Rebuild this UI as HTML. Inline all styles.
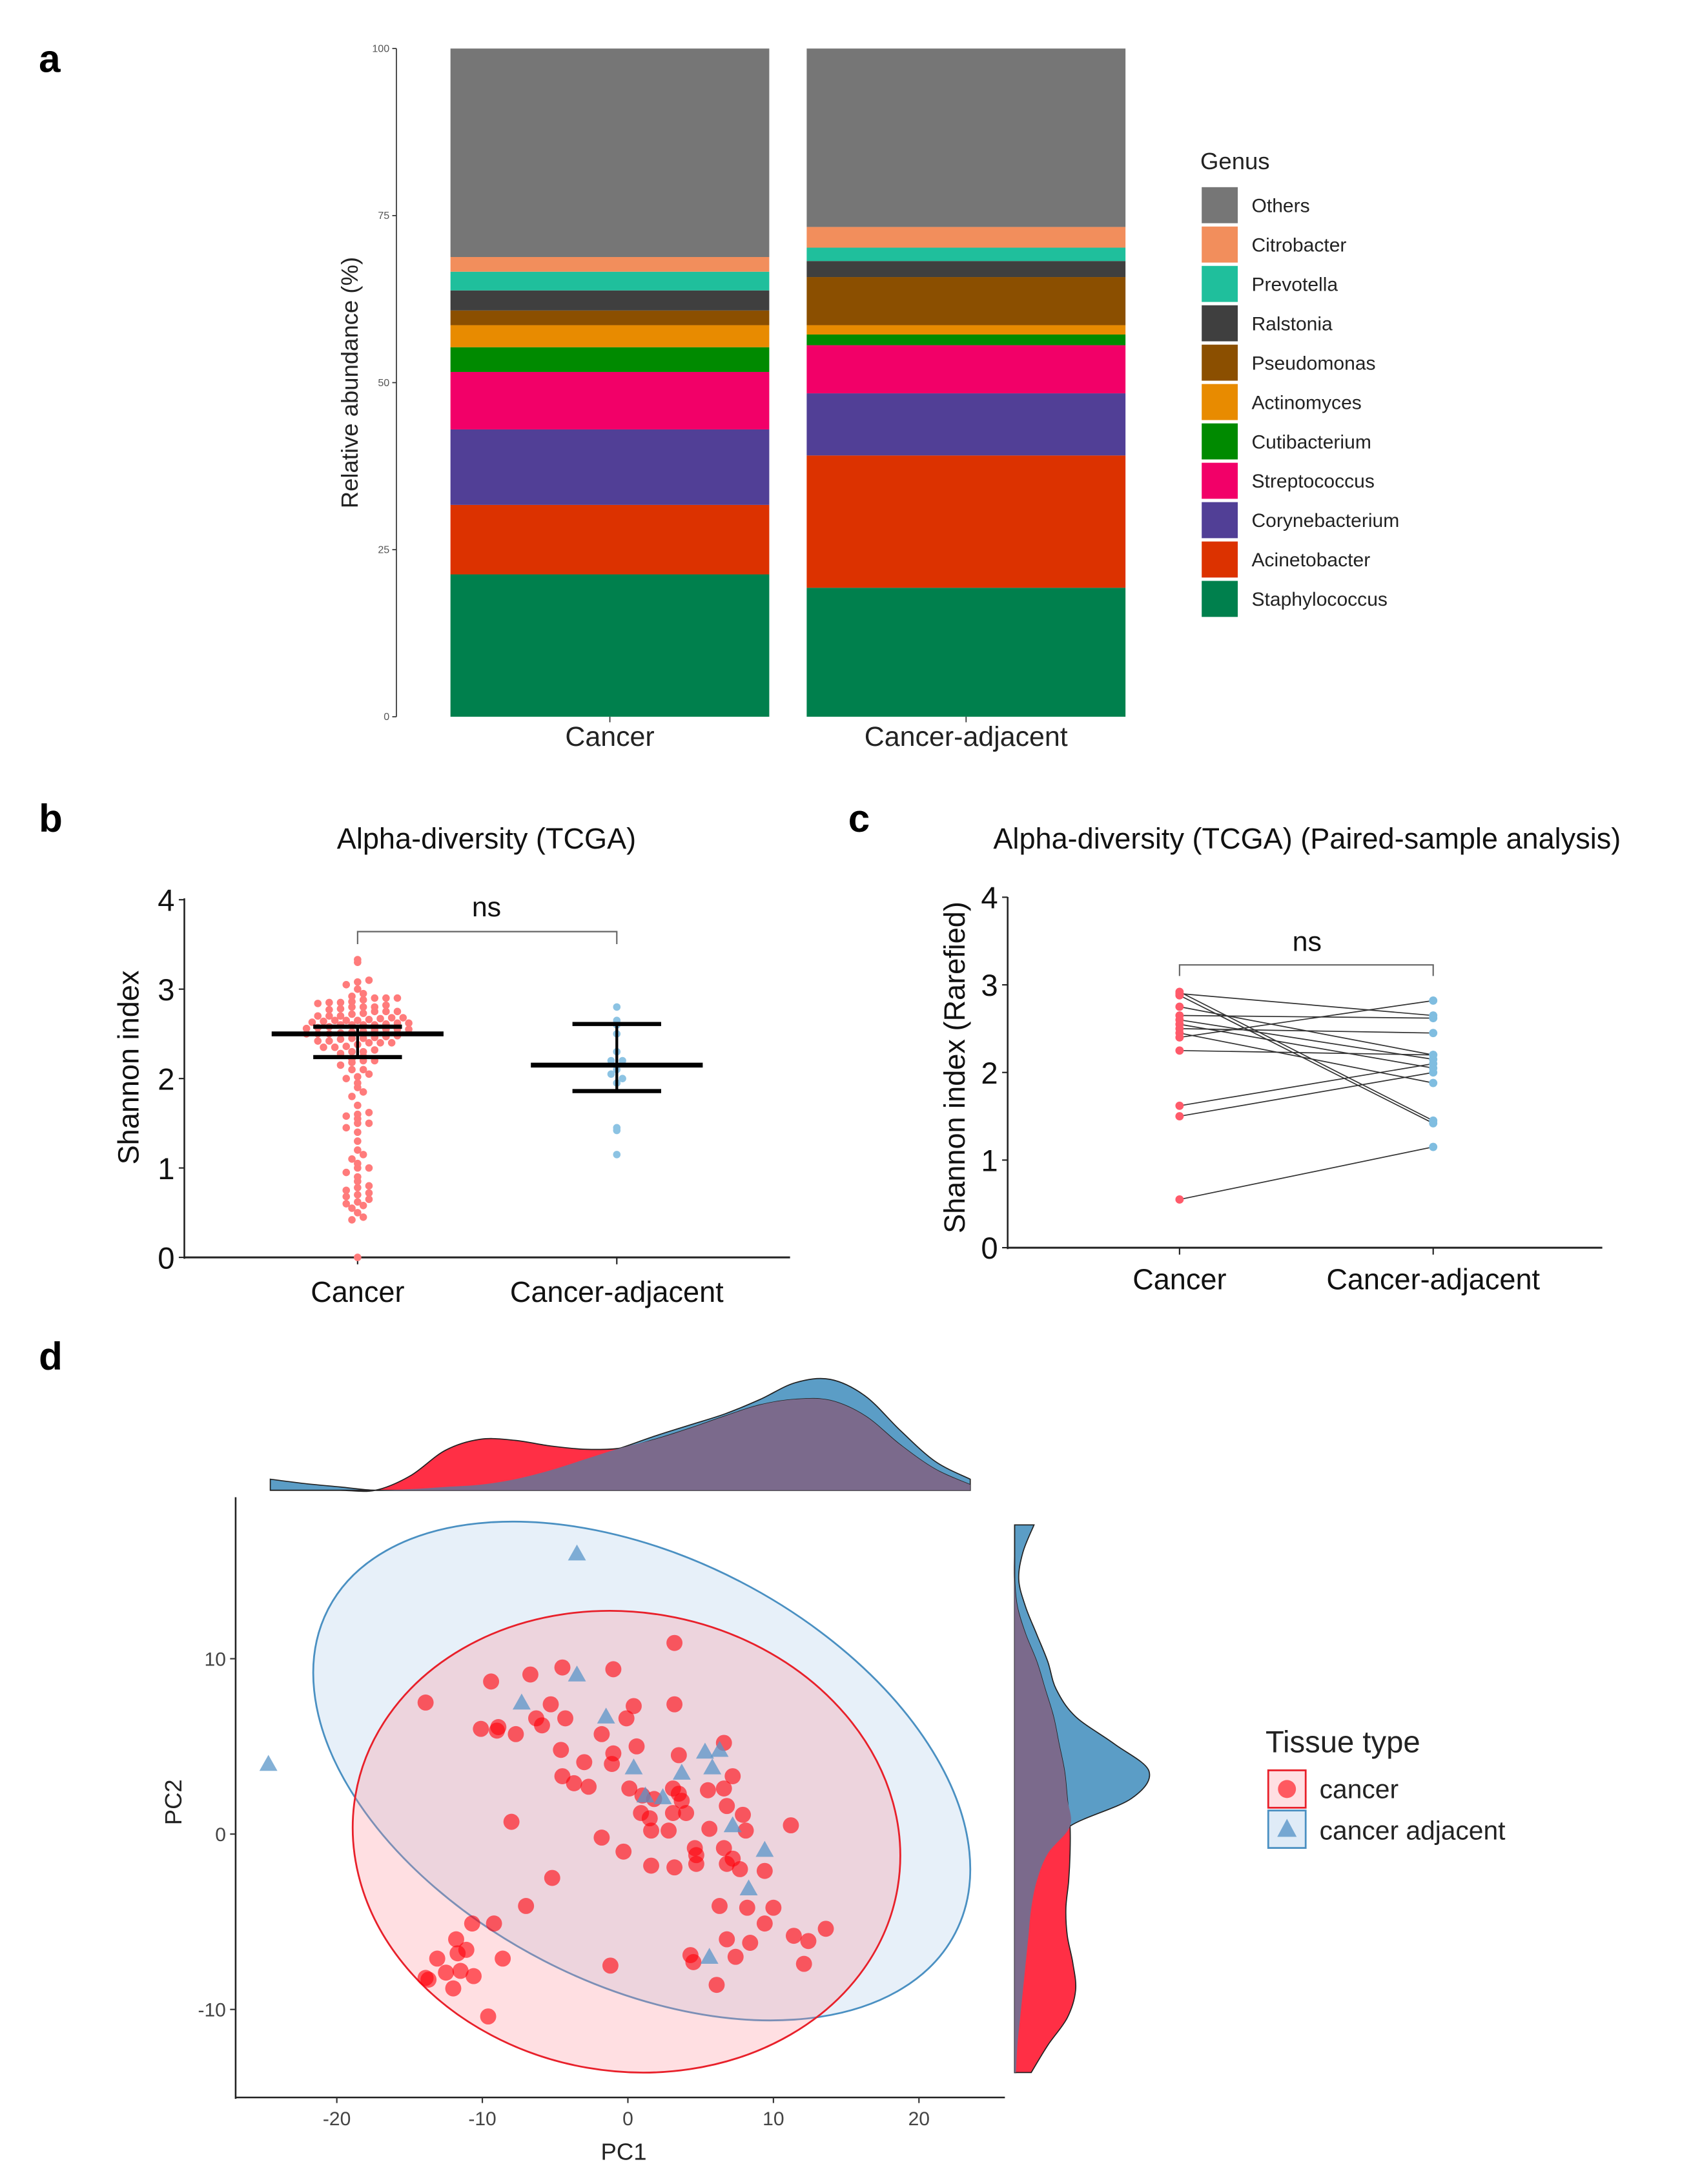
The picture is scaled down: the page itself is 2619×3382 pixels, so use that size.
<!DOCTYPE html>
<html><head><meta charset="utf-8">
<style>
html,body{margin:0;padding:0;background:#fff;}
svg{display:block;font-family:"Liberation Sans",Arial,sans-serif;}
</style></head>
<body>
<svg id="fig" width="2619" height="3382" viewBox="0 0 1220 1575.4" xmlns="http://www.w3.org/2000/svg">
<rect width="1220" height="1575.4" fill="#fff"/>
<text x="28" y="52" font-size="28" font-weight="bold">a</text>
<text x="28" y="600" font-size="28" font-weight="bold">b</text>
<text x="612" y="600" font-size="28" font-weight="bold">c</text>
<text x="28" y="988" font-size="28" font-weight="bold">d</text>
<g id="pa"></g>
<g id="pb"></g>
<g id="pc"></g>
<g id="pd"></g>
</svg>
<script>
// ---------- Panel a data ----------
const genera = ["Staphylococcus","Acinetobacter","Corynebacterium","Streptococcus","Cutibacterium","Actinomyces","Pseudomonas","Ralstonia","Prevotella","Citrobacter","Others"];
const genusColors = ["#00804d","#dc3200","#513f96","#f20068","#008a00","#e88b00","#8b4f00","#3f3f3f","#1fbf9c","#f28e5c","#767676"];
const barGroups = ["Cancer","Cancer-adjacent"];
const cancerAbund = [21.3,10.4,11.3,8.6,3.7,3.3,2.2,3.0,2.8,2.2,31.2];
const adjacentAbund = [19.3,19.8,9.3,7.2,1.6,1.4,7.2,2.4,2.0,3.1,26.7];
const abundTicks = [0,25,50,75,100];
// ---------- Panel b data ----------
const divGroups = ["Cancer","Cancer-adjacent"];
const cancerShannon = [0,0.42,0.45,0.5,0.55,0.58,0.6,0.62,0.65,0.68,0.7,0.72,0.75,0.78,0.8,0.85,0.9,0.95,1.0,1.0,1.05,1.1,1.15,1.2,1.3,1.4,1.45,1.5,1.5,1.55,1.58,1.6,1.62,1.7,1.8,1.85,1.9,1.95,2.0,2.02,2.05,2.1,2.1,2.15,2.18,2.2,2.2,2.22,2.25,2.28,2.3,2.3,2.32,2.35,2.35,2.36,2.38,2.4,2.4,2.4,2.42,2.42,2.44,2.45,2.45,2.46,2.47,2.48,2.5,2.5,2.5,2.51,2.52,2.53,2.54,2.55,2.55,2.55,2.56,2.57,2.58,2.6,2.6,2.6,2.6,2.61,2.62,2.62,2.63,2.64,2.65,2.65,2.65,2.66,2.67,2.68,2.68,2.7,2.7,2.7,2.72,2.73,2.75,2.75,2.75,2.77,2.78,2.8,2.8,2.8,2.82,2.84,2.85,2.85,2.86,2.88,2.9,2.9,2.9,2.92,2.95,3.0,3.05,3.08,3.1,3.3,3.33];
const adjacentShannon = [2.8,2.65,2.6,2.5,2.3,2.2,2.2,2.1,2.05,2.0,1.95,1.45,1.42,1.15];
const meanLine = [2.5,2.15];
const errLow = [2.24,1.86];
const errHigh = [2.58,2.61];
const shannonTicks = [0,1,2,3,4];
// ---------- Panel c data ----------
const pairCancer = [2.92,2.9,2.88,2.75,2.65,2.6,2.55,2.5,2.45,2.4,2.25,1.62,1.5,0.55];
const pairAdjacent = [1.45,2.65,1.42,2.2,2.62,2.15,2.05,2.45,1.88,2.82,2.2,2.1,2.0,1.15];
// ---------- Panel d data ----------
const cancerPC1 = [3.2,-4.5,-1.0,-6.7,-9.4,-13.9,-5.3,0.4,3.2,-6.3,-4.3,-0.1,-10.1,-8.9,-9.0,-7.7,-5.9,-1.8,0.6,6.6,-4.6,-1.0,3.5,-3.0,-1.1,7.2,-4.5,-3.7,-2.7,0.1,3.1,3.5,5.5,6.6,1.0,1.8,3.7,6.8,0.9,3.1,4.0,1.5,7.9,11.2,-8.0,5.6,1.6,2.8,8.1,-1.8,4.6,6.6,-0.3,4.7,7.2,1.6,3.2,4.7,6.8,7.7,9.4,-5.2,6.3,8.2,10.0,-7.0,9.4,-10.7,-9.2,11.4,13.6,12.4,6.8,8.4,-11.8,-11.1,-11.7,-13.1,-8.6,4.3,7.4,4.5,-12.5,-11.5,-10.6,-13.9,-13.7,12.1,-1.2,-12.0,6.1,-9.6];
const cancerPC2 = [10.9,9.5,9.4,9.1,8.7,7.5,7.4,7.3,7.4,6.6,6.6,6.6,6.0,6.1,5.9,5.7,6.2,5.7,5.0,5.2,4.8,4.6,4.5,4.1,4.0,3.3,3.3,2.9,2.7,2.6,2.6,2.3,2.5,2.6,2.2,2.0,1.9,1.6,1.2,1.2,1.2,0.9,1.1,0.5,0.7,0.3,0.2,0.2,0.2,-0.2,-0.8,-0.8,-1.0,-1.2,-1.4,-1.8,-1.9,-1.7,-1.7,-2.0,-2.1,-2.5,-4.1,-4.2,-4.2,-4.1,-5.1,-5.1,-5.1,-5.8,-5.4,-6.1,-6.0,-6.2,-6.0,-6.6,-6.8,-7.1,-7.1,-6.9,-7.0,-7.3,-7.9,-7.8,-8.1,-8.2,-8.3,-7.4,-7.5,-8.8,-8.6,-10.4];
const adjPC1 = [-3.5,-24.7,-3.5,-7.3,-1.5,0.4,3.7,5.8,5.3,6.3,1.2,2.4,7.2,9.4,8.3,5.6];
const adjPC2 = [16.0,4.0,9.1,7.5,6.7,3.8,3.5,3.8,4.7,4.8,2.2,2.1,0.5,-0.9,-3.1,-7.0];
const pc1Ticks = [-20,-10,0,10,20];
const pc2Ticks = [-10,0,10];
// marginal densities (relative heights)
const topDensCancer = [0,0,0,0,0.13,0.36,0.46,0.45,0.40,0.37,0.38,0.46,0.56,0.67,0.77,0.82,0.81,0.67,0.41,0.19,0.05];
const topDensAdjacent = [0.10,0.06,0.03,0,0.01,0.03,0.05,0.10,0.18,0.28,0.38,0.49,0.59,0.69,0.82,0.97,1.0,0.85,0.54,0.26,0.10];
const sideDensCancer = [0,0,0,0.02,0.08,0.16,0.22,0.28,0.32,0.36,0.38,0.40,0.40,0.39,0.37,0.38,0.42,0.44,0.38,0.24,0.12];
const sideDensAdjacent = [0.14,0.06,0.03,0.08,0.16,0.24,0.30,0.44,0.72,0.97,0.84,0.40,0.24,0.16,0.12,0.10,0.08,0.06,0.04,0.02,0.01];

const NS="http://www.w3.org/2000/svg";
function mk(parent,tag,attrs,txt){const e=document.createElementNS(NS,tag);for(const k in attrs)e.setAttribute(k,attrs[k]);if(txt!==undefined)e.textContent=txt;parent.appendChild(e);return e;}
function smooth(pts){let d="M"+pts[0][0]+","+pts[0][1];for(let i=0;i<pts.length-1;i++){const p0=pts[Math.max(0,i-1)],p1=pts[i],p2=pts[i+1],p3=pts[Math.min(pts.length-1,i+2)];const c1=[p1[0]+(p2[0]-p0[0])/6,p1[1]+(p2[1]-p0[1])/6],c2=[p2[0]-(p3[0]-p1[0])/6,p2[1]-(p3[1]-p1[1])/6];d+=" C"+c1+" "+c2+" "+p2;}return d;}

// ================= Panel a =================
(function(){
const g=document.getElementById('pa');
const y=v=>517-v*(482/100);
const barX=[325,582], barW=230;
const ax=mk(g,'line',{x1:286,y1:35,x2:286,y2:517,stroke:'#333','stroke-width':0.8});

abundTicks.forEach(t=>{const l=mk(g,'line',{x1:283,x2:286,y1:y(t),y2:y(t),stroke:'#333','stroke-width':0.8});

const tx=mk(g,'text',{x:281,y:y(t)+2.5,'font-size':7.5,fill:'#555','text-anchor':'end'},t);
});
const yt=mk(g,'text',{x:0,y:0,'font-size':17,fill:'#222','text-anchor':'middle',transform:'translate(258,276) rotate(-90)'},'Relative abundance (%)');

[cancerAbund,adjacentAbund].forEach((vals,bi)=>{let cum=0;vals.forEach((v,i)=>{const r=mk(g,'rect',{x:barX[bi],y:y(cum+v),width:barW,height:v*4.82,fill:genusColors[i]});
cum+=v;});
const tk=mk(g,'line',{x1:barX[bi]+barW/2,x2:barX[bi]+barW/2,y1:517,y2:521,stroke:'#333','stroke-width':0.8});

const lb=mk(g,'text',{x:barX[bi]+barW/2,y:538,'font-size':20,fill:'#222','text-anchor':'middle'},barGroups[bi]);
});
const lt=mk(g,'text',{x:866,y:122,'font-size':17,fill:'#222'},'Genus');

for(let k=0;k<genera.length;k++){const i=genera.length-1-k;const cy=148+k*28.4;
const s=mk(g,'rect',{x:867,y:cy-13,width:26,height:26,fill:genusColors[i]});

const t=mk(g,'text',{x:903,y:cy+5,'font-size':14,fill:'#222'},genera[i]);
}
})();

// ================= Panel b =================
(function(){
const g=document.getElementById('pb');
const y=v=>907-v*64.5; const xs=[258,445];
const tt=mk(g,'text',{x:351,y:612,'font-size':21,fill:'#111','text-anchor':'middle'},'Alpha-diversity (TCGA)');

const a1=mk(g,'line',{x1:133,y1:648,x2:133,y2:908,stroke:'#222','stroke-width':1.2});

const a2=mk(g,'line',{x1:133,y1:907,x2:570,y2:907,stroke:'#222','stroke-width':1.4});

shannonTicks.forEach(t=>{const l=mk(g,'line',{x1:129,x2:133,y1:y(t),y2:y(t),stroke:'#222'});

const tx=mk(g,'text',{x:126,y:y(t)+8,'font-size':22,fill:'#111','text-anchor':'end'},t);
});
const yt=mk(g,'text',{x:0,y:0,'font-size':21,fill:'#111','text-anchor':'middle',transform:'translate(100,770) rotate(-90)'},'Shannon index');

divGroups.forEach((n,i)=>{const l=mk(g,'line',{x1:xs[i],x2:xs[i],y1:907,y2:912,stroke:'#222'});

const t=mk(g,'text',{x:xs[i],y:939,'font-size':21,fill:'#111','text-anchor':'middle'},n);
});
const br=mk(g,'path',{d:`M${xs[0]},681 V672 H${xs[1]} V681`,fill:'none',stroke:'#666','stroke-width':1});

const ns=mk(g,'text',{x:351,y:661,'font-size':20,fill:'#111','text-anchor':'middle'},'ns');

[cancerShannon,adjacentShannon].forEach((vals,gi)=>{const bins={};vals.forEach(v=>{const b=Math.round(v/0.07);(bins[b]=bins[b]||[]).push(v);});
Object.keys(bins).forEach(b=>{const arr=bins[b];const n=arr.length;arr.forEach((v,k)=>{const off=(k-(n-1)/2)*8.2;
const c=mk(g,'circle',{cx:xs[gi]+off,cy:y(v),r:2.7,fill:gi?'#8cc3e3':'#ff7b7b'});
});});});
[0,1].forEach(i=>{const c=xs[i];
const m=mk(g,'line',{x1:c-62,x2:c+62,y1:y(meanLine[i]),y2:y(meanLine[i]),stroke:'#000','stroke-width':3.5});

const v=mk(g,'line',{x1:c,x2:c,y1:y(errLow[i]),y2:y(errHigh[i]),stroke:'#000','stroke-width':2});

[errLow[i],errHigh[i]].forEach(e=>{const cp=mk(g,'line',{x1:c-32,x2:c+32,y1:y(e),y2:y(e),stroke:'#000','stroke-width':3});
});});
})();

// ================= Panel c =================
(function(){
const g=document.getElementById('pc');
const y=v=>900-v*63.2; const xs=[851,1034];
const tt=mk(g,'text',{x:943,y:612,'font-size':21,fill:'#111','text-anchor':'middle'},'Alpha-diversity (TCGA) (Paired-sample analysis)');

const a1=mk(g,'line',{x1:727,y1:647,x2:727,y2:901,stroke:'#222','stroke-width':1.2});

const a2=mk(g,'line',{x1:727,y1:900,x2:1156,y2:900,stroke:'#222','stroke-width':1.4});

shannonTicks.forEach(t=>{const l=mk(g,'line',{x1:723,x2:727,y1:y(t),y2:y(t),stroke:'#222'});

const tx=mk(g,'text',{x:720,y:y(t)+8,'font-size':22,fill:'#111','text-anchor':'end'},t);
});
const yt=mk(g,'text',{x:0,y:0,'font-size':21,fill:'#111','text-anchor':'middle',transform:'translate(696,770) rotate(-90)'},'Shannon index (Rarefied)');

divGroups.forEach((n,i)=>{const l=mk(g,'line',{x1:xs[i],x2:xs[i],y1:900,y2:905,stroke:'#222'});

const t=mk(g,'text',{x:xs[i],y:930,'font-size':21,fill:'#111','text-anchor':'middle'},n);
});
const br=mk(g,'path',{d:`M${xs[0]},704 V696 H${xs[1]} V704`,fill:'none',stroke:'#666','stroke-width':1});

const ns=mk(g,'text',{x:943,y:686,'font-size':20,fill:'#111','text-anchor':'middle'},'ns');

pairCancer.forEach((v,i)=>{const l=mk(g,'line',{x1:xs[0],y1:y(v),x2:xs[1],y2:y(pairAdjacent[i]),stroke:'#333','stroke-width':0.8});
});
pairCancer.forEach((v,i)=>{const c=mk(g,'circle',{cx:xs[0],cy:y(v),r:3,fill:'#ff5a6a'});

const c2=mk(g,'circle',{cx:xs[1],cy:y(pairAdjacent[i]),r:3,fill:'#7fbde0'});
});
})();

// ================= Panel d =================
(function(){
const g=document.getElementById('pd');
const x=v=>453+v*10.5; const y=v=>1323-v*12.65;
const tx0=195,tx1=700,base=1075,H=80;
function topPts(arr){return arr.map((d,i)=>[tx0+i*(tx1-tx0)/(arr.length-1),base-d*H]);}
function closeTop(pts){return smooth(pts)+` L${tx1},${base} L${tx0},${base} Z`;}
const tb=mk(g,'path',{d:closeTop(topPts(topDensAdjacent)),fill:'#5b9dc6',stroke:'#222','stroke-width':0.8});

const tr=mk(g,'path',{d:closeTop(topPts(topDensCancer)),fill:'#ff2f45',stroke:'#222','stroke-width':0.8});

const tmin=topDensCancer.map((d,i)=>Math.min(d,topDensAdjacent[i]));
const tp=mk(g,'path',{d:closeTop(topPts(tmin)),fill:'#7b6a8c',stroke:'none'});

const sy0=1100,sy1=1495,sb=732,W=100;
function sidePts(arr){return arr.map((d,i)=>[sb+d*W,sy0+i*(sy1-sy0)/(arr.length-1)]);}
function closeSide(pts){return smooth(pts)+` L${sb},${sy1} L${sb},${sy0} Z`;}
const sbp=mk(g,'path',{d:closeSide(sidePts(sideDensAdjacent)),fill:'#5b9dc6',stroke:'#222','stroke-width':0.8});

const srp=mk(g,'path',{d:closeSide(sidePts(sideDensCancer)),fill:'#ff2f45',stroke:'#222','stroke-width':0.8});

const smin=sideDensCancer.map((d,i)=>Math.min(d,sideDensAdjacent[i]));
const spp=mk(g,'path',{d:closeSide(sidePts(smin)),fill:'#7b6a8c',stroke:'none'});

const a1=mk(g,'line',{x1:170,y1:1080,x2:170,y2:1514,stroke:'#222','stroke-width':1.2});

const a2=mk(g,'line',{x1:170,y1:1513,x2:725,y2:1513,stroke:'#222','stroke-width':1.2});

pc1Ticks.forEach(t=>{const l=mk(g,'line',{x1:x(t),x2:x(t),y1:1513,y2:1517,stroke:'#333'});

const tt=mk(g,'text',{x:x(t),y:1533,'font-size':14,fill:'#444','text-anchor':'middle'},t);
});
pc2Ticks.forEach(t=>{const l=mk(g,'line',{x1:166,x2:170,y1:y(t),y2:y(t),stroke:'#333'});

const tt=mk(g,'text',{x:163,y:y(t)+5,'font-size':14,fill:'#444','text-anchor':'end'},t);
});
const xt=mk(g,'text',{x:450,y:1558,'font-size':17,fill:'#222','text-anchor':'middle'},'PC1');

const yt=mk(g,'text',{x:0,y:0,'font-size':17,fill:'#222','text-anchor':'middle',transform:'translate(131,1300) rotate(-90)'},'PC2');

const eb=mk(g,'ellipse',{cx:463,cy:1277.5,rx:254.6,ry:154,transform:'rotate(27.3 463 1277.5)',fill:'rgba(175,205,235,0.3)',stroke:'#4a90c2','stroke-width':1.3});

const er=mk(g,'ellipse',{cx:452,cy:1328.5,rx:198.4,ry:165.5,transform:'rotate(9.8 452 1328.5)',fill:'rgba(255,140,150,0.28)',stroke:'#e8202a','stroke-width':1.3});

cancerPC1.forEach((v,i)=>{const c=mk(g,'circle',{cx:x(v),cy:y(cancerPC2[i]),r:5.8,fill:'rgba(255,0,10,0.6)'});
});
adjPC1.forEach((v,i)=>{const cx=x(v),cy=y(adjPC2[i]);const t=mk(g,'polygon',{points:`${cx},${cy-6.5} ${cx-6.5},${cy+5} ${cx+6.5},${cy+5}`,fill:'rgba(90,150,200,0.75)'});
});
const lt=mk(g,'text',{x:913,y:1264,'font-size':22,fill:'#222'},'Tissue type');

const k1=mk(g,'rect',{x:915,y:1277,width:27,height:27,fill:'rgba(255,150,160,0.3)',stroke:'#e8202a','stroke-width':1.3});

const k1c=mk(g,'circle',{cx:928.5,cy:1290.5,r:6.5,fill:'rgba(255,0,10,0.6)'});

const k2=mk(g,'rect',{x:915,y:1306,width:27,height:27,fill:'rgba(175,205,235,0.4)',stroke:'#4a90c2','stroke-width':1.3});

const k2t=mk(g,'polygon',{points:'928.5,1312 921.5,1325 935.5,1325',fill:'rgba(90,150,200,0.8)'});

const l1=mk(g,'text',{x:952,y:1297,'font-size':19,fill:'#222'},'cancer');

const l2=mk(g,'text',{x:952,y:1327,'font-size':19,fill:'#222'},'cancer adjacent');

})();
</script>
</body></html>
